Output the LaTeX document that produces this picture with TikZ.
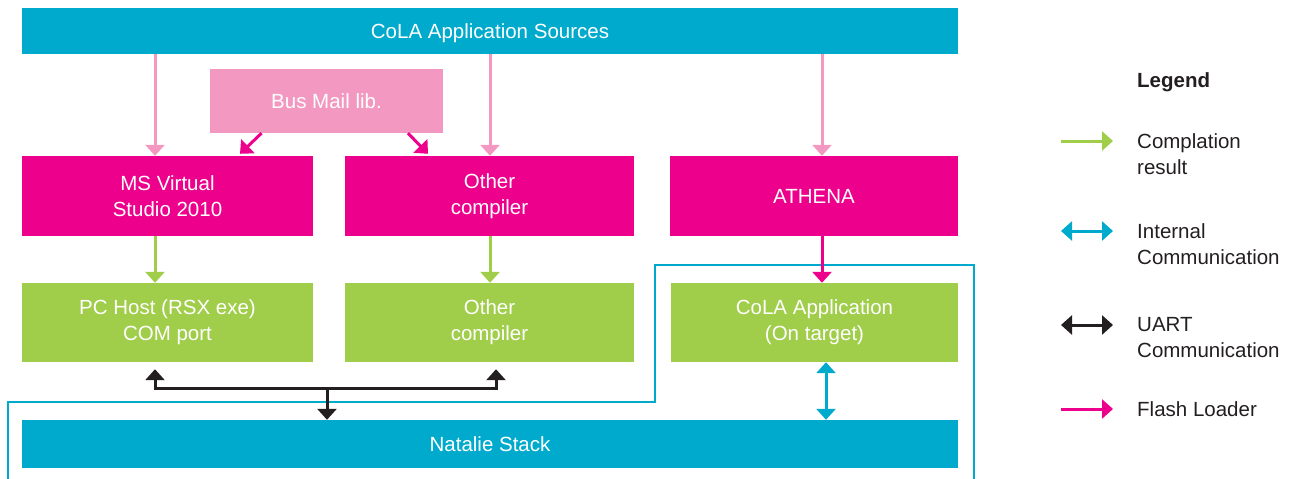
\documentclass[tikz,border=0pt]{standalone}
\usepackage{fontspec}
\setmainfont{Liberation Sans}
\usetikzlibrary{arrows.meta}
\definecolor{cyanb}{RGB}{0,170,204}
\definecolor{mag}{RGB}{236,0,140}
\definecolor{lpink}{RGB}{243,153,193}
\definecolor{lgreen}{RGB}{160,205,74}
\definecolor{dark}{RGB}{35,31,32}
\begin{document}
\begin{tikzpicture}[x=1pt,y=-1pt,
  font=\fontsize{20.5}{26}\selectfont,
  box/.style={draw=none, inner sep=0pt, text=white, align=center},
  single/.style={text height=15pt, text depth=0pt},
  one/.style={line width=3pt, -{Triangle[width=19pt,length=11pt]}},
  two/.style={line width=3pt, {Triangle[width=19pt,length=11pt]}-{Triangle[width=19pt,length=11pt]}},
  legtext/.style={anchor=west, inner sep=0pt, align=left, text=dark}
]
\useasboundingbox (0,0) rectangle (1293,479);

% column coordinates
\coordinate (colA) at (155,0);
\coordinate (colB) at (490,0);
\coordinate (colC) at (822,0);
\coordinate (colD) at (826,0);
\coordinate (colE) at (496,0);

% boxes
\node[box, single, fill=cyanb, minimum width=936pt, minimum height=46pt] (src) at (490,31) {CoLA Application Sources};
\node[box, single, fill=lpink, minimum width=233pt, minimum height=64pt] (bus) at (326.5,101) {Bus Mail lib.};
\node[box, fill=mag, minimum width=291pt, minimum height=80pt] (msvs) at (167.5,196) {MS Virtual\\Studio 2010};
\node[box, fill=mag, minimum width=289pt, minimum height=80pt] (oc1) at (489.5,196) {Other\\compiler};
\node[box, single, fill=mag, minimum width=288pt, minimum height=80pt] (ath) at (814,196) {ATHENA};
\node[box, fill=lgreen, minimum width=291pt, minimum height=79pt] (pc) at (167.5,322.5) {PC Host (RSX exe)\\COM port};
\node[box, fill=lgreen, minimum width=289pt, minimum height=79pt] (oc2) at (489.5,322.5) {Other\\compiler};
\node[box, fill=lgreen, minimum width=287pt, minimum height=79pt] (app) at (814.5,322.5) {CoLA Application\\(On target)};
\node[box, single, fill=cyanb, minimum width=936pt, minimum height=48pt] (nat) at (490,444) {Natalie Stack};

% cyan outline
\draw[cyanb, line width=2pt] (8,479) -- (8,402) -- (655,402) -- (655,265) -- (974,265) -- (974,479);

% source arrows
\draw[one, lpink] (colA |- src.south) -- (colA |- msvs.north);
\draw[one, lpink] (colB |- src.south) -- (colB |- oc1.north);
\draw[one, lpink] (colC |- src.south) -- (colC |- ath.north);

% bus mail arrows
\draw[one, mag] ([xshift=-65pt]bus.south) -- ([xshift=72.5pt,yshift=2pt]msvs.north);
\draw[one, mag] ([xshift=81.5pt]bus.south) -- ([xshift=-61.5pt,yshift=2pt]oc1.north);

% compilation results
\draw[one, lgreen] (colA |- msvs.south) -- (colA |- pc.north);
\draw[one, lgreen] (colB |- oc1.south) -- (colB |- oc2.north);

% flash loader
\draw[one, mag] (colC |- ath.south) -- (colC |- app.north);

% internal communication
\draw[two, cyanb] (colD |- app.south) -- (colD |- nat.north);

% UART
\coordinate (uj) at (327,388);
\draw[two, dark] ([yshift=-7pt]colA |- pc.south) -- (colA |- uj) -- (colE |- uj) -- ([yshift=-7pt]colE |- oc2.south);
\draw[one, dark] (uj) -- (uj |- nat.north);

% legend
\node[legtext, font=\fontsize{20.5}{26}\selectfont\bfseries] (leg) at (1137,82) {Legend};
\coordinate (l1a) at (1061,141); \coordinate (l1b) at (1113,141);
\coordinate (l2a) at (1061,231); \coordinate (l2b) at (1113,231);
\coordinate (l3a) at (1061,325); \coordinate (l3b) at (1113,325);
\coordinate (l4a) at (1061,409); \coordinate (l4b) at (1113,409);
\draw[one, lgreen] (l1a) -- (l1b);
\draw[two, cyanb] (l2a) -- (l2b);
\draw[two, dark] (l3a) -- (l3b);
\draw[one, mag] (l4a) -- (l4b);
\node[legtext] (t1) at (1137,154) {Complation\\result};
\node[legtext] (t2) at (1137,244) {Internal\\Communication};
\node[legtext] (t3) at (1137,338) {UART\\Communication};
\node[legtext] (t4) at (1137,409) {Flash Loader};
\end{tikzpicture}
\end{document}
